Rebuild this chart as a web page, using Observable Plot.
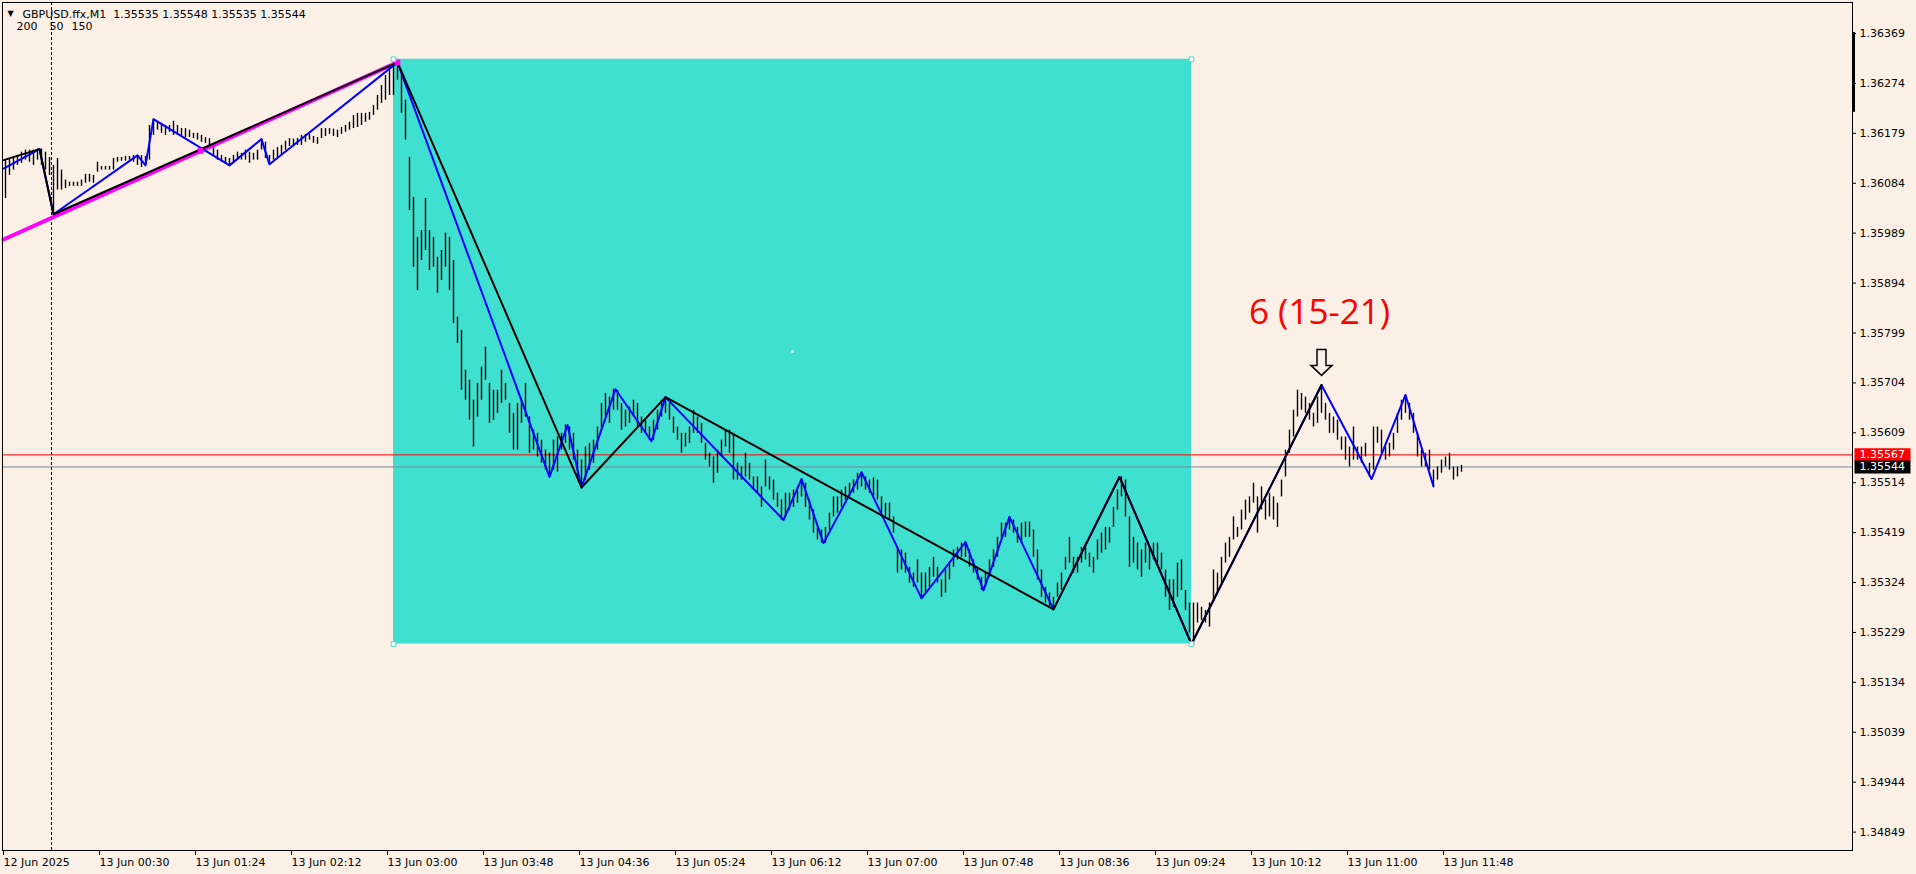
<!DOCTYPE html>
<html><head><meta charset="utf-8">
<script src="https://cdn.jsdelivr.net/npm/d3@7"></script>
<script src="https://cdn.jsdelivr.net/npm/@observablehq/plot@0.6"></script>
<style>html,body{margin:0;padding:0;background:#FAF0E6;overflow:hidden}</style>
</head><body><div id="chart"></div>
<script>
// ---- data (prices; bar values in points above BASE) ----
const BASE = 1.35, PT = 0.00001;
const barStart = 1, barStep = 2; // minute-bar index of first bar group and step
const barHi = [
1128,1131,1135,1137,1143,1147,1147,1147,1149,1149,
1143,1133,1118,1131,1109,1090,1086,1086,1086,1090,
1101,1101,1099,1124,1116,1116,1116,1131,1133,1133,
1135,1135,1137,1137,1137,1135,1194,1206,1200,1198,
1194,1194,1202,1194,1188,1188,1185,1179,1179,1175,
1171,1169,1156,1147,1137,1133,1131,1137,1143,1141,
1147,1143,1141,1147,1168,1162,1137,1147,1152,1156,
1164,1169,1168,1169,1175,1177,1177,1173,1171,1188,
1188,1188,1187,1185,1190,1194,1200,1213,1217,1217,
1217,1219,1232,1251,1270,1289,1299,1308,1316,
1299,1242,1133,1057,981,994,1055,994,981,943,
956,989,981,937,829,804,728,709,671,703,
734,772,703,690,690,728,703,665,646,665,
671,703,639,614,608,595,576,570,595,601,
608,624,620,608,576,557,582,589,595,620,
665,684,677,692,690,665,652,658,671,665,
639,633,620,633,652,671,677,665,639,620,
608,608,620,652,639,627,589,570,563,576,
595,614,614,608,551,544,570,551,525,525,
506,557,525,519,494,481,494,494,500,506,
521,513,481,462,429,424,429,456,487,487,
500,506,513,519,532,534,525,519,523,519,
487,475,475,449,391,386,380,353,342,367,
342,342,353,372,353,329,348,361,386,391,
399,401,386,367,353,334,342,367,386,
410,437,437,449,443,429,437,439,439,424,
386,348,315,304,296,323,342,372,410,372,
372,391,399,380,372,405,418,429,429,467,
500,525,519,449,410,399,386,399,391,399,
399,380,348,329,329,361,367,309,285,
285,285,277,271,285,348,342,372,399,410,
449,429,462,481,487,513,487,506,481,494,
487,475,519,576,614,652,690,684,677,665,
646,677,700,665,646,639,633,601,601,582,
620,582,582,589,551,620,620,614,582,589,
608,646,671,681,665,646,608,576,570,576,
538,544,557,563,570,544,544,547
];
const barLo = [
1055,1099,1109,1118,1122,1128,1124,1118,1128,1118,
1109,1099,1025,1071,1071,1074,1078,1078,1078,1078,
1084,1086,1084,1105,1109,1109,1109,1109,1124,1126,
1126,1128,1124,1118,1114,1118,1128,1175,1185,1179,
1175,1181,1175,1175,1175,1171,1171,1169,1166,1162,
1160,1150,1137,1128,1124,1120,1118,1122,1128,1128,
1128,1122,1128,1128,1147,1131,1120,1128,1131,1137,
1147,1154,1154,1156,1156,1162,1166,1160,1158,1169,
1173,1177,1173,1171,1177,1181,1185,1188,1190,1194,
1200,1204,1213,1223,1236,1242,1251,1251,1280,
1217,1166,1032,924,880,937,956,918,924,875,
899,924,880,817,779,690,671,633,582,639,
671,709,627,633,646,665,671,608,576,576,
627,639,570,576,563,551,538,525,538,534,
576,589,576,557,525,502,519,538,551,576,
614,639,627,652,652,614,620,627,639,620,
608,608,595,595,614,639,646,633,608,595,
570,582,589,608,608,589,557,544,513,532,
563,582,570,519,519,519,525,519,500,494,
467,506,500,481,467,443,449,462,467,475,
487,467,443,418,405,399,399,424,449,456,
467,481,487,494,500,506,500,494,487,481,
456,449,443,418,342,348,342,323,315,323,
294,304,315,334,323,296,304,329,353,367,
372,372,353,342,329,309,315,334,353,
372,405,410,424,418,399,399,410,410,372,
329,296,285,277,273,296,309,348,361,342,
342,361,367,353,342,367,380,386,399,429,
462,487,449,353,361,348,334,361,348,367,
361,348,296,271,277,296,309,271,228,
205,247,252,247,239,285,304,323,361,372,
405,410,424,443,456,475,418,462,443,449,
443,429,487,525,570,601,639,652,646,633,
620,627,646,633,608,608,595,576,557,544,
557,557,551,563,525,538,589,570,557,563,
576,608,633,646,633,608,563,544,544,538,
507,519,532,544,538,519,525,534
];
const blackZZ = [[0,1.36128],[18,1.36149],[25,1.36025],[197,1.36314],[289,1.35505],[331,1.35677],[525,1.35273],[558,1.35525],[594,1.35207],[659,1.35700]];
const blueZZ = [[0,1.36112],[18,1.36149],[25,1.36025],[67,1.36137],[71,1.36118],[75,1.36206],[113,1.36118],[129,1.36168],[133,1.36120],[197,1.36314],[273,1.35525],[282,1.35624],[289,1.35505],[306,1.35692],[324,1.35593],[331,1.35677],[390,1.35443],[399,1.35521],[410,1.35399],[429,1.35534],[459,1.35294],[481,1.35401],[490,1.35309],[503,1.35449],[525,1.35273],[558,1.35525],[594,1.35207],[659,1.35700],[684,1.35521],[701,1.35681],[715,1.35507]];
const trendLine = [[0,1.35977],[197,1.36314]];
const boxTime = [195, 594];
const boxPrice = [1.35207, 1.36320];
const yTicks = [1.36369,1.36274,1.36179,1.36084,1.35989,1.35894,1.35799,1.35704,1.35609,1.35514,1.35419,1.35324,1.35229,1.35134,1.35039,1.34944,1.34849];
const xTicks = [0,48,96,144,192,240,288,336,384,432,480,528,576,624,672,720];
const xLabels = ["12 Jun 2025","13 Jun 00:30","13 Jun 01:24","13 Jun 02:12","13 Jun 03:00","13 Jun 03:48","13 Jun 04:36","13 Jun 05:24","13 Jun 06:12","13 Jun 07:00","13 Jun 07:48","13 Jun 08:36","13 Jun 09:24","13 Jun 10:12","13 Jun 11:00","13 Jun 11:48"];
const askPrice = 1.35567, bidPrice = 1.35544;
const priceTags = [{p: askPrice, color: "#FF0000"}, {p: bidPrice, color: "#000000"}];
const periodSep = 24;
const scaleMarker = [1.36219, 1.36371];
const labelText = "6 (15-21)", labelTime = 658, labelPrice = 1.35816;
const arrowTime = 659, arrowPrice = 1.35743;
const header1 = "GBPUSD.ffx,M1  1.35535 1.35548 1.35535 1.35544";
const header2 = ["200", "50", "150"];

// ---- chart ----
const BG = "#FAF0E6";
const bars = d3.range(barHi.length).map(i => ({t: barStart + i*barStep, hi: BASE + barHi[i]*PT, lo: BASE + barLo[i]*PT}));
const labelMap = new Map(xTicks.map((t,i)=>[t, xLabels[i]]));
const XMAX = 924.5;

const arrowSym = {draw(ctx, size){
  const r = Math.sqrt(size/Math.PI), s = r/13;
  ctx.moveTo(-4.5*s,-13*s); ctx.lineTo(4.5*s,-13*s); ctx.lineTo(4.5*s,3*s); ctx.lineTo(10.5*s,3*s);
  ctx.lineTo(0,13*s); ctx.lineTo(-10.5*s,3*s); ctx.lineTo(-4.5*s,3*s); ctx.closePath();
}};
// price-tag box drawn to the right of the anchor point
const tagSym = {draw(ctx){ ctx.rect(2, -6.5, 56, 13); }};

const trendMid = [(trendLine[0][0]+trendLine[1][0])/2, (trendLine[0][1]+trendLine[1][1])/2];
const corners = [[boxTime[0],boxPrice[0]],[boxTime[0],boxPrice[1]],[boxTime[1],boxPrice[0]],[boxTime[1],boxPrice[1]]];

const chart = Plot.plot({
  width: 1916, height: 874,
  marginLeft: 2, marginRight: 64, marginTop: 2, marginBottom: 24,
  style: {fontFamily: "DejaVu Sans", fontSize: "11px", background: BG, color: "black", overflow: "visible"},
  x: {domain: [-0.5, XMAX], axis: null},
  y: {domain: [1.34814, 1.36428], axis: null},
  marks: [
    Plot.rect([0], {x1: () => boxTime[0], x2: () => boxTime[1], y1: () => boxPrice[0], y2: () => boxPrice[1], fill: "#40E0D0"}),
    Plot.ruleY([askPrice], {stroke: "#FF0000", strokeWidth: 1}),
    Plot.ruleY([bidPrice], {stroke: "#778899", strokeWidth: 1}),
    Plot.ruleX(bars, {x: "t", y1: "lo", y2: "hi", stroke: "black", strokeWidth: 1.4}),
    Plot.ruleX([periodSep], {stroke: "black", strokeDasharray: "3,2", strokeWidth: 1}),
    Plot.line(trendLine, {x: d=>d[0], y: d=>d[1], stroke: "#FF00FF", strokeWidth: 4}),
    Plot.line(blueZZ, {x: d=>d[0], y: d=>d[1], stroke: "#0000FF", strokeWidth: 2}),
    Plot.line(blackZZ, {x: d=>d[0], y: d=>d[1], stroke: "black", strokeWidth: 2}),
    Plot.dot([trendMid, trendLine[1]], {x: d=>d[0], y: d=>d[1], symbol: "square", r: 3.2, fill: "#FF00FF"}),
    Plot.dot(corners, {x: d=>d[0], y: d=>d[1], symbol: "square", r: 2.6, fill: "white", stroke: "#40E0D0", strokeWidth: 1}),
    Plot.dot([[(boxTime[0]+boxTime[1])/2, (boxPrice[0]+boxPrice[1])/2]], {x: d=>d[0], y: d=>d[1], r: 1.3, fill: "white"}),
    Plot.text([labelText], {x: () => labelTime, y: () => labelPrice, text: d => d, fill: "#FF0000", fontSize: 35, fontFamily: "Open Sans", textAnchor: "middle", lineAnchor: "bottom"}),
    Plot.dot([0], {x: () => arrowTime, y: () => arrowPrice, r: 13, symbol: arrowSym, fill: BG, stroke: "black", strokeWidth: 1.5}),
    Plot.ruleX([0], {x: () => XMAX, y1: () => scaleMarker[0], y2: () => scaleMarker[1], stroke: "black", strokeWidth: 3, dx: 1}),
    Plot.frame({stroke: "black"}),
    Plot.axisY(yTicks, {anchor: "right", tickSize: 3, tickPadding: 4, tickFormat: d => d.toFixed(5), label: null, fontSize: 11}),
    Plot.axisX(xTicks, {anchor: "bottom", tickSize: 5, tickPadding: 3, tickFormat: d => labelMap.get(d), textAnchor: "start", label: null, fontSize: 11}),
    Plot.dot(priceTags, {x: () => XMAX, y: "p", symbol: tagSym, r: 5, fill: "color", stroke: null}),
    Plot.text(priceTags, {x: () => XMAX, y: "p", text: d => d.p.toFixed(5), dx: 7, textAnchor: "start", fill: "white", fontSize: 11}),
    Plot.text(["\u25BC"], {frameAnchor: "top-left", dx: 5, dy: 13, fontSize: 8, lineAnchor: "bottom", textAnchor: "start"}),
    Plot.text([header1], {frameAnchor: "top-left", dx: 20, dy: 15, lineAnchor: "bottom", textAnchor: "start"}),
    Plot.text([header2[0]], {frameAnchor: "top-left", dx: 14, dy: 27, lineAnchor: "bottom", textAnchor: "start"}),
    Plot.text([header2[1]], {frameAnchor: "top-left", dx: 47, dy: 27, lineAnchor: "bottom", textAnchor: "start"}),
    Plot.text([header2[2]], {frameAnchor: "top-left", dx: 69, dy: 27, lineAnchor: "bottom", textAnchor: "start"})
  ]
});
document.getElementById("chart").append(chart);
</script>
</body></html>
